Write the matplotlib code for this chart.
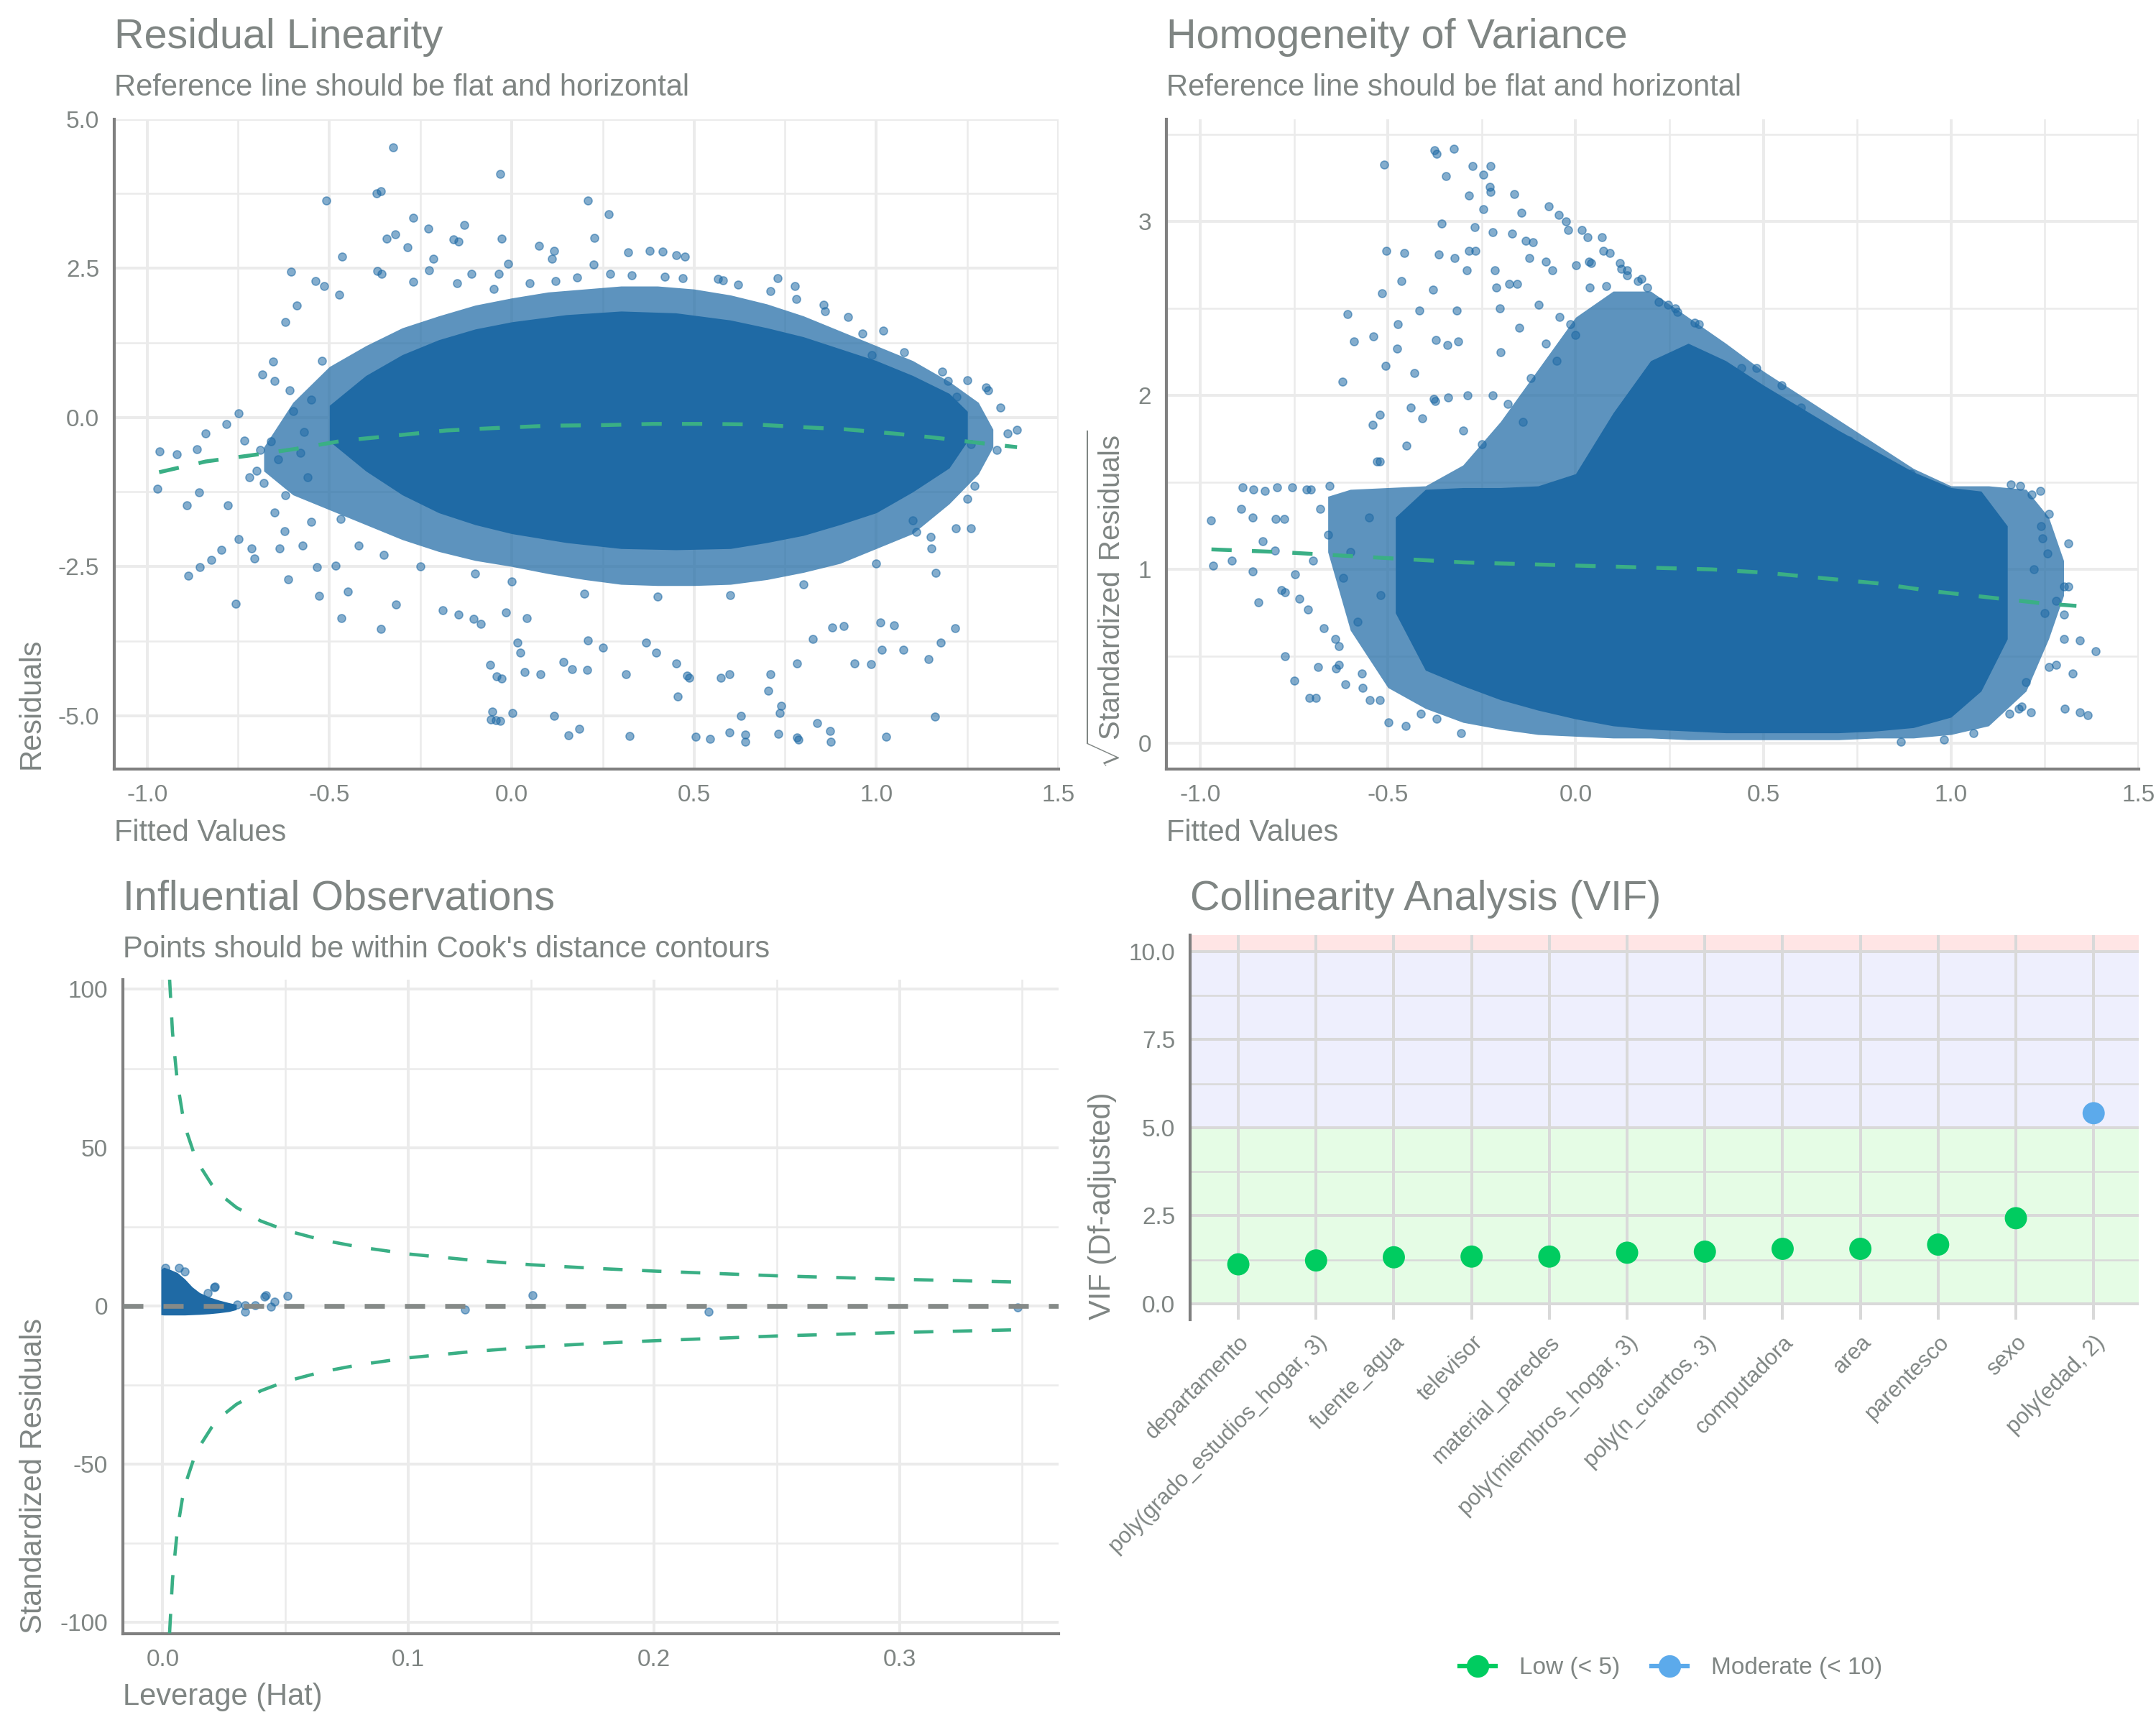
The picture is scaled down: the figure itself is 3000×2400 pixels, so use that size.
import matplotlib
matplotlib.use('Agg')
import matplotlib.pyplot as plt
from matplotlib.lines import Line2D
from matplotlib.ticker import MultipleLocator, FormatStrFormatter

plt.rcParams['font.family'] = ['Liberation Sans', 'DejaVu Sans']
plt.rcParams['axes.unicode_minus'] = False
plt.rcParams['mathtext.fontset'] = 'custom'
plt.rcParams['mathtext.rm'] = 'Liberation Sans'

GREY = '#7f8583'
BLUE = '#1f6aa5'
LOESS = '#3aaf85'

# ---- residual linearity (fitted vs residuals) ----
lin_core_x = [-0.5, -0.4, -0.3, -0.2, -0.1, 0.0, 0.15, 0.3, 0.45, 0.6, 0.7, 0.8, 0.9, 1.0, 1.1, 1.2, 1.25]
lin_core_hi = [0.2, 0.7, 1.05, 1.3, 1.48, 1.6, 1.72, 1.78, 1.75, 1.63, 1.5, 1.35, 1.15, 0.95, 0.7, 0.4, 0.1]
lin_core_lo = [-0.4, -0.9, -1.3, -1.6, -1.8, -1.95, -2.1, -2.2, -2.22, -2.2, -2.1, -1.98, -1.8, -1.6, -1.25, -0.85, -0.4]
lin_halo_x = [-0.68, -0.6, -0.5, -0.4, -0.3, -0.2, -0.1, 0.0, 0.1, 0.2, 0.3, 0.4, 0.5, 0.6, 0.7, 0.8, 0.9, 1.0, 1.1, 1.2, 1.28, 1.32]
lin_halo_hi = [-0.5, 0.25, 0.85, 1.2, 1.5, 1.7, 1.88, 2.0, 2.1, 2.15, 2.2, 2.2, 2.15, 2.05, 1.9, 1.7, 1.45, 1.2, 0.95, 0.6, 0.25, -0.2]
lin_halo_lo = [-0.9, -1.3, -1.55, -1.8, -2.05, -2.25, -2.4, -2.5, -2.62, -2.72, -2.8, -2.82, -2.82, -2.8, -2.72, -2.6, -2.45, -2.2, -1.95, -1.45, -0.95, -0.5]
lin_pts_x = [-0.326, -0.032, -0.509, -0.371, -0.358, 0.209, 0.266, -0.27, -0.32, -0.343, -0.228, -0.13, -0.16,
             -0.145, -0.028, 0.226, 0.075, -0.285, -0.466, -0.215, 0.117, 0.111, -0.009, 0.224, 0.319, 0.379,
             0.413, 0.452, 0.475, -0.605, -0.368, -0.356, -0.539, -0.515, -0.473, -0.59, -0.62, -0.27, -0.226,
             -0.11, -0.15, -0.036, 0.566, 0.73, 0.777, 0.856, 0.922, 0.962, 0.988, 1.076, 1.18, 1.197, 1.25,
             1.307, 1.34, 1.386, 1.361, 1.27, 1.25, 1.218, 1.26,
             -0.971, -0.965, -0.918, -0.864, -0.84, -0.89, -0.858, -0.887, -0.855, -0.824, -0.796, -0.756,
             -0.749, -0.779, -0.749, -0.783, -0.734, -0.683, -0.655, -0.651, -0.713, -0.706, -0.637, -0.613,
             -0.622, -0.573, -0.528, -0.468, -0.534, -0.483, -0.45,
             -0.70, -0.68, -0.66, -0.64, -0.62, -0.60, -0.58, -0.56, -0.55, -0.72, -0.69, -0.65,
             -0.358, -0.317, -0.189, -0.145, -0.104, -0.085, -0.015, 0.041, -0.06, -0.041, -0.028, 0.015,
             0.023, 0.036, 0.079, -0.053, -0.058, -0.043, -0.032, 0.002, 0.117, 0.156, 0.185, 0.209, 0.25,
             0.141, 0.166, 0.206, 0.313, 0.324, 0.368, 0.396, 0.452, 0.456, 0.481, 0.486, 0.505, 0.545,
             0.573, 0.598, 0.598, 0.628, 0.641, 0.641, 0.709, 0.735, 0.732, 0.782, 0.786, 0.837, 0.873,
             0.875, 0.703, 0.739, 0.782, 0.826, 0.941, 0.986, 1.016, 0.88, 0.911, 1.048, 1.012, 1.075,
             1.027, 1.144, 1.176, 1.161, 1.216, 1.163, 1.152, 1.099, 1.109,
             0.05, 0.18, 0.33, 0.47, 0.62, 0.78, -0.05, 0.12, 0.27, 0.42, 0.58, 0.71, 0.86, 1.02,
             -0.42, -0.25, 0.0, 0.2, 0.4, 0.6, 0.8, 1.0, 1.15, -0.55, -0.35, -0.1,
             -0.61, -0.57, -0.52, -0.47, 1.22, 1.26, 1.3, 1.33]
lin_pts_y = [4.53, 4.08, 3.63, 3.75, 3.79, 3.63, 3.41, 3.34, 3.07, 2.99, 3.16, 3.23, 2.98,
             2.95, 3.0, 3.01, 2.87, 2.85, 2.69, 2.66, 2.79, 2.66, 2.57, 2.56, 2.77, 2.79,
             2.78, 2.72, 2.7, 2.44, 2.45, 2.41, 2.29, 2.2, 2.06, 1.87, 1.6, 2.27, 2.46,
             2.41, 2.25, 2.4, 2.32, 2.33, 2.2, 1.89, 1.68, 1.41, 1.04, 1.09, 0.77, 0.61, 0.62,
             0.45, 0.16, -0.21, -0.27, -1.15, -1.37, -1.86, -1.86,
             -1.2, -0.57, -0.62, -0.53, -0.27, -1.47, -1.26, -2.65, -2.51, -2.39, -2.22, -3.13,
             -2.04, -1.47, 0.07, -0.11, -0.39, 0.72, 0.94, 0.61, -2.2, -2.37, -2.2, -2.71,
             -1.91, -2.15, -2.99, -3.36, -2.51, -2.48, -2.92,
             -0.9, -1.1, -0.4, -0.7, -1.3, 0.1, -0.6, -1.0, 0.3, -1.0, -0.55, -1.6,
             -3.55, -3.14, -3.23, -3.31, -3.38, -3.46, -3.27, -3.37, -4.15, -4.34, -4.38, -3.77,
             -3.94, -4.27, -4.31, -4.93, -5.06, -5.07, -5.09, -4.96, -5.0, -5.33, -5.22, -3.74, -3.86,
             -4.1, -4.22, -4.23, -4.31, -5.34, -3.77, -3.94, -4.12, -4.68, -4.33, -4.37, -5.35, -5.39,
             -4.36, -4.31, -5.28, -5.0, -5.32, -5.44, -4.31, -4.95, -5.31, -5.37, -5.4, -5.12, -5.26,
             -5.44, -4.58, -4.83, -4.13, -3.71, -4.12, -4.14, -3.89, -3.52, -3.5, -3.48, -3.44, -3.89,
             -5.35, -4.05, -3.78, -5.02, -3.53, -2.61, -2.2, -1.73, -1.92,
             2.25, 2.35, 2.38, 2.33, 2.22, 1.98, 2.15, 2.28, 2.4, 2.36, 2.3, 2.12, 1.78, 1.45,
             -2.15, -2.5, -2.75, -2.95, -3.0, -2.98, -2.8, -2.45, -2.0, -1.75, -2.3, -2.62,
             0.45, -0.25, 0.95, -1.7, 0.35, -0.45, 0.5, -0.55]
lin_smooth_x = [-0.967, -0.839, -0.707, -0.594, -0.462, -0.311, -0.179, -0.047, 0.104, 0.255, 0.387,
                0.537, 0.669, 0.782, 0.914, 1.046, 1.16, 1.27, 1.386]
lin_smooth_y = [-0.92, -0.74, -0.63, -0.53, -0.39, -0.30, -0.22, -0.18, -0.14, -0.13, -0.11,
                -0.11, -0.12, -0.16, -0.20, -0.27, -0.34, -0.42, -0.50]

# ---- homogeneity of variance (fitted vs sqrt|std resid|) ----
hom_core_x = [-0.48, -0.4, -0.3, -0.2, -0.1, 0.0, 0.1, 0.2, 0.3, 0.4, 0.5, 0.6, 0.7, 0.8, 0.9, 1.0, 1.08, 1.15]
hom_core_hi = [1.3, 1.46, 1.47, 1.47, 1.48, 1.55, 1.9, 2.2, 2.3, 2.2, 2.06, 1.93, 1.8, 1.68, 1.56, 1.47, 1.45, 1.25]
hom_core_lo = [0.75, 0.42, 0.33, 0.25, 0.19, 0.14, 0.1, 0.08, 0.07, 0.06, 0.06, 0.06, 0.06, 0.07, 0.09, 0.15, 0.3, 0.6]
hom_halo_x = [-0.66, -0.6, -0.5, -0.4, -0.3, -0.2, -0.1, 0.0, 0.1, 0.2, 0.3, 0.4, 0.5, 0.6, 0.7, 0.8, 0.9, 1.0, 1.1, 1.2, 1.26, 1.3]
hom_halo_hi = [1.42, 1.46, 1.47, 1.48, 1.6, 1.85, 2.15, 2.45, 2.6, 2.6, 2.45, 2.3, 2.14, 2.0, 1.86, 1.72, 1.58, 1.48, 1.48, 1.46, 1.3, 1.05]
hom_halo_lo = [1.1, 0.65, 0.32, 0.2, 0.12, 0.08, 0.05, 0.04, 0.03, 0.03, 0.02, 0.02, 0.02, 0.02, 0.02, 0.03, 0.03, 0.05, 0.1, 0.3, 0.6, 0.85]
hom_pts_x = [-0.376, -0.37, -0.324, -0.51, -0.275, -0.227, -0.246, -0.346, -0.229, -0.227, -0.284, -0.163,
             -0.246, -0.145, -0.357, -0.269, -0.22, -0.17, -0.132, -0.114, -0.071, -0.044, -0.026, -0.02,
             0.016, 0.031, -0.504, -0.456, -0.365, -0.323, -0.284, -0.266, -0.123, -0.079, -0.29, -0.216,
             -0.062, 0.002, 0.042, 0.073, 0.092, 0.117, 0.137, -0.464, -0.515, -0.379, -0.211, -0.176,
             -0.156, -0.416, -0.317, -0.202, -0.607, -0.59, -0.539, -0.473, -0.475, -0.372, -0.341,
             -0.312, -0.621, -0.506, -0.429, -0.44, -0.409, -0.521, -0.541, -0.451, -0.53, -0.521,
             -0.378, -0.374, -0.339, -0.288,
             -0.887, -0.858, -0.827, -0.795, -0.755, -0.717, -0.706, -0.656, -0.971, -0.891, -0.86,
             -0.799, -0.777, -0.966, -0.916, -0.861, -0.845, -0.834, -0.801, -0.783, -0.774, -0.748,
             -0.735, -0.713, -0.774, -0.75, -0.709, -0.691, -0.687, -0.638, -0.614, -0.568, -0.671,
             -0.631, -0.548, -0.521, -0.499, -0.453, -0.412, -0.37, -0.306,
             1.261, 1.243, 1.257, 1.312, 1.301, 1.312, 1.279, 1.301, 1.343, 1.386, 1.323, 1.261, 1.303,
             1.343, 1.364, 1.213, 1.188, 1.155, 1.237, 1.215, 1.184, 1.16, 1.059, 0.982, 0.867,
             0.07, 0.035, 0.037, 0.081, 0.121, 0.137, 0.165, 0.176, 0.191, 0.222, 0.246, 0.266, 0.271,
             0.317, 0.328, -0.042, -0.015, -0.099, -0.15, 0.442, 0.482, 0.548, 0.601, 0.693, 0.729,
             0.803, 0.894,
             -0.25, -0.18, -0.12, -0.2, -0.08, -0.3, -0.22, -0.05, 0.0, -0.14,
             -0.66, -0.62, -0.58, -0.55, -0.64, -0.6, -0.52, -0.68, -0.7, -0.63, -0.57,
             1.22, 1.25, 1.28, 1.2, 1.24, 1.3, 1.18]
hom_pts_y = [3.41, 3.39, 3.42, 3.33, 3.32, 3.32, 3.27, 3.26, 3.2, 3.17, 3.15, 3.16,
             3.07, 3.05, 2.99, 2.97, 2.94, 2.93, 2.89, 2.88, 3.09, 3.04, 3.0, 2.95,
             2.95, 2.91, 2.83, 2.82, 2.81, 2.79, 2.83, 2.83, 2.79, 2.77, 2.72, 2.72,
             2.72, 2.75, 2.76, 2.83, 2.82, 2.76, 2.72, 2.66, 2.59, 2.61, 2.62, 2.64,
             2.64, 2.49, 2.49, 2.5, 2.47, 2.31, 2.34, 2.41, 2.27, 2.32, 2.29,
             2.31, 2.08, 2.17, 2.13, 1.93, 1.87, 1.89, 1.83, 1.71, 1.62, 1.62,
             1.98, 1.97, 1.99, 2.0,
             1.47, 1.46, 1.45, 1.47, 1.47, 1.46, 1.46, 1.48, 1.28, 1.35, 1.3,
             1.29, 1.29, 1.02, 1.05, 0.99, 0.81, 1.16, 1.11, 0.88, 0.87, 0.97,
             0.83, 0.77, 0.5, 0.36, 0.26, 0.26, 0.44, 0.43, 0.34, 0.32, 0.66,
             0.56, 0.25, 0.25, 0.12, 0.1, 0.17, 0.14, 0.06,
             1.32, 1.18, 1.09, 1.15, 0.9, 0.9, 0.82, 0.74, 0.59, 0.53, 0.4, 0.44, 0.2,
             0.18, 0.16, 0.18, 0.21, 0.17, 1.45, 1.43, 1.48, 1.49, 0.06, 0.02, 0.01,
             2.91, 2.77, 2.62, 2.63, 2.73, 2.69, 2.66, 2.67, 2.62, 2.54, 2.52, 2.5, 2.48,
             2.42, 2.41, 2.45, 2.41, 2.52, 2.39, 2.16, 2.16, 2.06, 1.93, 1.77, 1.74,
             1.64, 1.55,
             1.72, 1.95, 2.1, 2.25, 2.3, 1.8, 2.0, 2.2, 2.35, 1.85,
             1.2, 0.95, 0.7, 1.3, 0.6, 1.1, 0.85, 1.35, 1.05, 0.45, 0.4,
             1.0, 0.75, 0.45, 0.35, 1.25, 0.6, 0.2]
hom_smooth_x = [-0.97, -0.792, -0.627, -0.462, -0.297, -0.132, 0.033, 0.198, 0.363, 0.51, 0.656,
                0.803, 0.949, 1.096, 1.243, 1.334]
hom_smooth_y = [1.115, 1.10, 1.08, 1.06, 1.04, 1.03, 1.02, 1.01, 1.0, 0.98, 0.95,
                0.92, 0.875, 0.84, 0.805, 0.79]

# ---- influential observations (leverage vs std resid) ----
inf_core_x = [-0.0007, 0.0005, 0.003, 0.006, 0.009, 0.012, 0.015, 0.019, 0.023, 0.027, 0.03]
inf_core_hi = [11.5, 12.2, 11.5, 10.5, 8.5, 6.0, 4.2, 2.8, 1.8, 1.0, 0.5]
inf_core_lo = [-2.8, -2.9, -2.9, -2.9, -2.9, -2.8, -2.7, -2.5, -2.2, -1.8, -1.2]
inf_pts_x = [0.0209, 0.0184, 0.0213, 0.0302, 0.0336, 0.0336, 0.0375, 0.0415, 0.042, 0.044, 0.0454,
             0.0508, 0.1232, 0.1507, 0.2224, 0.348, 0.0065, 0.009, 0.0012]
inf_pts_y = [5.9, 4.0, 6.1, 0.45, -1.8, 0.2, 0.2, 2.9, 3.3, -0.15, 1.4,
             3.1, -1.2, 3.3, -1.9, -0.5, 12.1, 10.8, 11.9]
cook_lev = [0.0028, 0.004, 0.006, 0.008, 0.01, 0.0125, 0.015, 0.02, 0.025, 0.03, 0.04, 0.05,
            0.065, 0.08, 0.1, 0.125, 0.15, 0.175, 0.2, 0.25, 0.3, 0.35]
cook_res = [103.4, 86.4, 70.5, 61.0, 54.5, 48.7, 44.4, 38.3, 34.2, 31.1, 26.8, 23.9,
            20.8, 18.6, 16.4, 14.5, 13.0, 11.9, 11.0, 9.5, 8.4, 7.5]

# ---- collinearity ----
vif_terms = ['departamento', 'poly(grado_estudios_hogar, 3)', 'fuente_agua', 'televisor',
             'material_paredes', 'poly(miembros_hogar, 3)', 'poly(n_cuartos, 3)', 'computadora',
             'area', 'parentesco', 'sexo', 'poly(edad, 2)']
vif_values = [1.12, 1.23, 1.32, 1.34, 1.34, 1.45, 1.48, 1.56, 1.56, 1.68, 2.43, 5.41]
vif_low = '#00cc60'
vif_mod = '#5caaeb'


def style(ax, xmaj, ymaj, xfmt, yfmt, grid='#ebebeb'):
    for s in ['top', 'right']:
        ax.spines[s].set_visible(False)
    for s in ['left', 'bottom']:
        ax.spines[s].set_color('#808080')
        ax.spines[s].set_linewidth(1.0)
    ax.xaxis.set_major_locator(MultipleLocator(xmaj))
    ax.xaxis.set_minor_locator(MultipleLocator(xmaj / 2))
    ax.yaxis.set_major_locator(MultipleLocator(ymaj))
    ax.yaxis.set_minor_locator(MultipleLocator(ymaj / 2))
    ax.xaxis.set_major_formatter(FormatStrFormatter(xfmt))
    ax.yaxis.set_major_formatter(FormatStrFormatter(yfmt))
    ax.set_axisbelow(True)
    ax.grid(which='major', color=grid, lw=0.95)
    ax.grid(which='minor', color=grid, lw=0.6)
    ax.tick_params(which='both', length=0, labelcolor=GREY, labelsize=8, pad=5)


def titles(fig, x, y, title, sub=None):
    fig.text(x, y, title, fontsize=13.8, color=GREY, va='baseline')
    if sub:
        fig.text(x, y - 0.0275, sub, fontsize=10, color=GREY, va='baseline')


def cloud(ax, hx, hlo, hhi, cx, clo, chi, px, py):
    ax.fill_between(hx, hlo, hhi, color=BLUE, alpha=0.72, lw=0, zorder=2)
    ax.fill_between(cx, clo, chi, color=BLUE, lw=0, zorder=2)
    ax.scatter(px, py, s=7, color=BLUE, alpha=0.55, lw=0.4, zorder=3)


fig = plt.figure(figsize=(10, 8), dpi=300)

# top left
ax1 = fig.add_axes([0.053, 0.554, 0.438, 0.377])
cloud(ax1, lin_halo_x, lin_halo_lo, lin_halo_hi, lin_core_x, lin_core_lo, lin_core_hi, lin_pts_x, lin_pts_y)
ax1.plot(lin_smooth_x, lin_smooth_y, color=LOESS, lw=1.3, ls=(0, (5.2, 5.2)), zorder=4)
ax1.set_xlim(-1.09, 1.5)
ax1.set_ylim(-5.9, 5.0)
style(ax1, 0.5, 2.5, '%.1f', '%.1f')
ax1.set_xlabel('Fitted Values', loc='left', fontsize=10, color=GREY)
ax1.set_ylabel('Residuals', loc='bottom', fontsize=10, color=GREY)
titles(fig, 0.053, 0.972, 'Residual Linearity', 'Reference line should be flat and horizontal')

# top right
ax2 = fig.add_axes([0.541, 0.554, 0.451, 0.377])
cloud(ax2, hom_halo_x, hom_halo_lo, hom_halo_hi, hom_core_x, hom_core_lo, hom_core_hi, hom_pts_x, hom_pts_y)
ax2.plot(hom_smooth_x, hom_smooth_y, color=LOESS, lw=1.3, ls=(0, (5.2, 5.2)), zorder=4)
ax2.set_xlim(-1.09, 1.5)
ax2.set_ylim(-0.15, 3.59)
style(ax2, 0.5, 1, '%.1f', '%d')
ax2.set_xlabel('Fitted Values', loc='left', fontsize=10, color=GREY)
ax2.set_ylabel(r'$\sqrt{\mathrm{Standardized\ Residuals}}$', loc='bottom', fontsize=9.6, color=GREY)
titles(fig, 0.541, 0.972, 'Homogeneity of Variance', 'Reference line should be flat and horizontal')

# bottom left
ax3 = fig.add_axes([0.057, 0.053, 0.434, 0.379])
ax3.fill_between(inf_core_x, inf_core_lo, inf_core_hi, color=BLUE, lw=0, zorder=2)
ax3.scatter(inf_pts_x, inf_pts_y, s=7, color=BLUE, alpha=0.55, lw=0.4, zorder=3)
ax3.plot(cook_lev, cook_res, color=LOESS, lw=1.1, ls=(0, (5.9, 5.9)), zorder=4)
ax3.plot(cook_lev, [-v for v in cook_res], color=LOESS, lw=1.1, ls=(0, (5.9, 5.9)), zorder=4)
ax3.axhline(0, color='#858a88', lw=1.6, ls=(0, (4.2, 4.2)), zorder=5)
ax3.set_xlim(-0.0162, 0.3648)
ax3.set_ylim(-103.5, 103)
style(ax3, 0.1, 50, '%.1f', '%d')
ax3.set_xlabel('Leverage (Hat)', loc='left', fontsize=10, color=GREY)
ax3.set_ylabel('Standardized Residuals', loc='bottom', fontsize=10, color=GREY)
titles(fig, 0.057, 0.4725, 'Influential Observations', "Points should be within Cook's distance contours")

# bottom right
ax4 = fig.add_axes([0.552, 0.235, 0.440, 0.223])
ax4.axhspan(0, 5, color='#00eb00', alpha=0.1, lw=0, zorder=0)
ax4.axhspan(5, 10, color='#5f69f5', alpha=0.1, lw=0, zorder=0)
ax4.axhspan(10, 11, color='#ff0000', alpha=0.1, lw=0, zorder=0)
pos = list(range(len(vif_terms)))
vif_cols = [vif_low if v < 5 else vif_mod for v in vif_values]
ax4.scatter(pos, vif_values, s=55, c=vif_cols, lw=0, zorder=4)
ax4.set_xlim(-0.62, len(vif_terms) - 0.42)
ax4.set_ylim(-0.45, 10.47)
for s in ['top', 'right', 'bottom']:
    ax4.spines[s].set_visible(False)
ax4.spines['left'].set_color('#808080')
ax4.spines['left'].set_linewidth(1.0)
ax4.set_xticks(pos)
ax4.set_xticklabels(vif_terms, rotation=45, ha='right', rotation_mode='anchor')
ax4.yaxis.set_major_locator(MultipleLocator(2.5))
ax4.yaxis.set_minor_locator(MultipleLocator(1.25))
ax4.yaxis.set_major_formatter(FormatStrFormatter('%.1f'))
ax4.set_axisbelow(True)
ax4.grid(which='major', color='#d9d9d9', lw=0.95)
ax4.grid(which='minor', axis='y', color='#d9d9d9', lw=0.6)
ax4.tick_params(which='both', length=0, labelcolor=GREY, labelsize=8, pad=5)
ax4.tick_params(axis='x', labelsize=7.4, pad=4)
ax4.set_ylabel('VIF (Df-adjusted)', loc='bottom', fontsize=10, color=GREY)
titles(fig, 0.552, 0.4725, 'Collinearity Analysis (VIF)')

handles = [Line2D([], [], color=vif_low, marker='o', markersize=6.5, lw=1.5),
           Line2D([], [], color=vif_mod, marker='o', markersize=6.5, lw=1.5)]
fig.legend(handles, ['Low (< 5)', 'Moderate (< 10)'], loc='center', bbox_to_anchor=(0.775, 0.033),
           ncol=2, frameon=False, fontsize=8, labelcolor=GREY, handlelength=1.5,
           handletextpad=1.0, columnspacing=1.3)

fig.savefig('out.png', dpi=300, facecolor='white')
plt.close(fig)
